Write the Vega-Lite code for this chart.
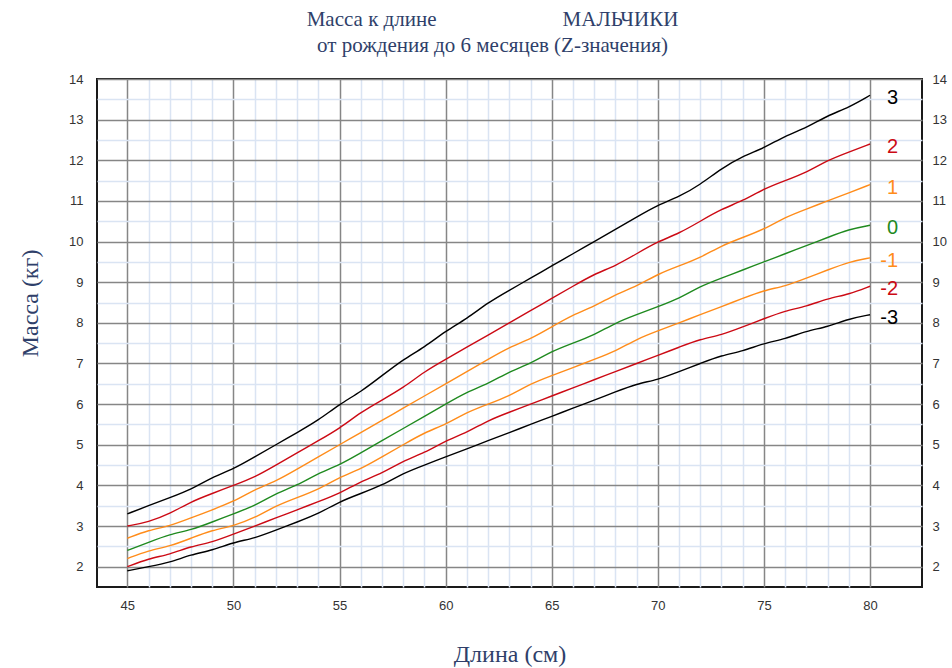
{
  "$schema": "https://vega.github.io/schema/vega-lite/v6.json",
  "width": 825,
  "height": 508,
  "autosize": {"type": "none"},
  "padding": {"left": 97, "top": 79, "right": 30, "bottom": 81},
  "background": "white",
  "title": {
    "text": ["Масса к длине\u00a0\u00a0\u00a0\u00a0\u00a0\u00a0\u00a0\u00a0\u00a0\u00a0\u00a0\u00a0\u00a0\u00a0\u00a0\u00a0\u00a0\u00a0\u00a0\u00a0\u00a0\u00a0\u00a0\u00a0МАЛЬЧИКИ", "от рождения до 6 месяцев (Z-значения)"],
    "font": "Liberation Serif",
    "fontSize": 21,
    "fontWeight": "normal",
    "color": "#2F3F6A",
    "lineHeight": 26,
    "anchor": "middle",
    "dx": -17,
    "offset": 17
  },
  "config": {
    "view": {"stroke": "#1a1a1a", "strokeWidth": 2},
    "axis": {
      "labelFont": "Liberation Sans",
      "labelFontSize": 13,
      "labelColor": "#333333",
      "ticks": false,
      "domain": false,
      "gridWidth": 1.5,
      "titleFont": "Liberation Serif",
      "titleFontSize": 24,
      "titleFontWeight": "normal",
      "titleColor": "#2F3F6A"
    }
  },
  "data": {
    "values": [
      {"L":45,"-3":1.9,"-2":2.0,"-1":2.2,"0":2.4,"1":2.7,"2":3.0,"3":3.3},
      {"L":46,"-3":2.0,"-2":2.2,"-1":2.4,"0":2.6,"1":2.9,"2":3.1,"3":3.5},
      {"L":47,"-3":2.1,"-2":2.3,"-1":2.5,"0":2.8,"1":3.0,"2":3.3,"3":3.7},
      {"L":48,"-3":2.3,"-2":2.5,"-1":2.7,"0":2.9,"1":3.2,"2":3.6,"3":3.9},
      {"L":49,"-3":2.4,"-2":2.6,"-1":2.9,"0":3.1,"1":3.4,"2":3.8,"3":4.2},
      {"L":50,"-3":2.6,"-2":2.8,"-1":3.0,"0":3.3,"1":3.6,"2":4.0,"3":4.4},
      {"L":51,"-3":2.7,"-2":3.0,"-1":3.2,"0":3.5,"1":3.9,"2":4.2,"3":4.7},
      {"L":52,"-3":2.9,"-2":3.2,"-1":3.5,"0":3.8,"1":4.1,"2":4.5,"3":5.0},
      {"L":53,"-3":3.1,"-2":3.4,"-1":3.7,"0":4.0,"1":4.4,"2":4.8,"3":5.3},
      {"L":54,"-3":3.3,"-2":3.6,"-1":3.9,"0":4.3,"1":4.7,"2":5.1,"3":5.6},
      {"L":55,"-3":3.6,"-2":3.8,"-1":4.2,"0":4.5,"1":5.0,"2":5.4,"3":6.0},
      {"L":56,"-3":3.8,"-2":4.1,"-1":4.4,"0":4.8,"1":5.3,"2":5.8,"3":6.3},
      {"L":57,"-3":4.0,"-2":4.3,"-1":4.7,"0":5.1,"1":5.6,"2":6.1,"3":6.7},
      {"L":58,"-3":4.3,"-2":4.6,"-1":5.0,"0":5.4,"1":5.9,"2":6.4,"3":7.1},
      {"L":59,"-3":4.5,"-2":4.8,"-1":5.3,"0":5.7,"1":6.2,"2":6.8,"3":7.4},
      {"L":60,"-3":4.7,"-2":5.1,"-1":5.5,"0":6.0,"1":6.5,"2":7.1,"3":7.8},
      {"L":61,"-3":4.9,"-2":5.3,"-1":5.8,"0":6.3,"1":6.8,"2":7.4,"3":8.1},
      {"L":62,"-3":5.1,"-2":5.6,"-1":6.0,"0":6.5,"1":7.1,"2":7.7,"3":8.5},
      {"L":63,"-3":5.3,"-2":5.8,"-1":6.2,"0":6.8,"1":7.4,"2":8.0,"3":8.8},
      {"L":64,"-3":5.5,"-2":6.0,"-1":6.5,"0":7.0,"1":7.6,"2":8.3,"3":9.1},
      {"L":65,"-3":5.7,"-2":6.2,"-1":6.7,"0":7.3,"1":7.9,"2":8.6,"3":9.4},
      {"L":66,"-3":5.9,"-2":6.4,"-1":6.9,"0":7.5,"1":8.2,"2":8.9,"3":9.7},
      {"L":67,"-3":6.1,"-2":6.6,"-1":7.1,"0":7.7,"1":8.4,"2":9.2,"3":10.0},
      {"L":68,"-3":6.3,"-2":6.8,"-1":7.3,"0":8.0,"1":8.7,"2":9.4,"3":10.3},
      {"L":69,"-3":6.5,"-2":7.0,"-1":7.6,"0":8.2,"1":8.9,"2":9.7,"3":10.6},
      {"L":70,"-3":6.6,"-2":7.2,"-1":7.8,"0":8.4,"1":9.2,"2":10.0,"3":10.9},
      {"L":71,"-3":6.8,"-2":7.4,"-1":8.0,"0":8.6,"1":9.4,"2":10.2,"3":11.1},
      {"L":72,"-3":7.0,"-2":7.6,"-1":8.2,"0":8.9,"1":9.6,"2":10.5,"3":11.4},
      {"L":73,"-3":7.2,"-2":7.7,"-1":8.4,"0":9.1,"1":9.9,"2":10.8,"3":11.8},
      {"L":74,"-3":7.3,"-2":7.9,"-1":8.6,"0":9.3,"1":10.1,"2":11.0,"3":12.1},
      {"L":75,"-3":7.5,"-2":8.1,"-1":8.8,"0":9.5,"1":10.3,"2":11.3,"3":12.3},
      {"L":76,"-3":7.6,"-2":8.3,"-1":8.9,"0":9.7,"1":10.6,"2":11.5,"3":12.6},
      {"L":77,"-3":7.8,"-2":8.4,"-1":9.1,"0":9.9,"1":10.8,"2":11.7,"3":12.8},
      {"L":78,"-3":7.9,"-2":8.6,"-1":9.3,"0":10.1,"1":11.0,"2":12.0,"3":13.1},
      {"L":79,"-3":8.1,"-2":8.7,"-1":9.5,"0":10.3,"1":11.2,"2":12.2,"3":13.3},
      {"L":80,"-3":8.2,"-2":8.9,"-1":9.6,"0":10.4,"1":11.4,"2":12.4,"3":13.6}
    ]
  },
  "transform": [
    {"fold": ["-3","-2","-1","0","1","2","3"], "as": ["z","w"]}
  ],
  "layer": [
    {
      "mark": {"type": "line", "strokeWidth": 1.4, "interpolate": "basis", "clip": true},
      "encoding": {
        "x": {
          "field": "L", "type": "quantitative",
          "scale": {"domain": [43.57, 82.45], "nice": false, "zero": false},
          "axis": {
            "values": [45,46,47,48,49,50,51,52,53,54,55,56,57,58,59,60,61,62,63,64,65,66,67,68,69,70,71,72,73,74,75,76,77,78,79,80],
            "labelExpr": "datum.value % 5 === 0 ? datum.label : ''",
            "gridColor": {"condition": {"test": "datum.value % 5 === 0", "value": "#868686"}, "value": "#dae4f3"},
            "labelPadding": 12,
            "title": "Длина (см)",
            "titlePadding": 30
          }
        },
        "y": {
          "field": "w", "type": "quantitative",
          "scale": {"domain": [1.5, 14], "nice": false, "zero": false},
          "axis": {
            "values": [2,2.5,3,3.5,4,4.5,5,5.5,6,6.5,7,7.5,8,8.5,9,9.5,10,10.5,11,11.5,12,12.5,13,13.5,14],
            "labelExpr": "datum.value % 1 === 0 ? format(datum.value, 'd') : ''",
            "gridColor": {"condition": {"test": "datum.value % 1 === 0", "value": "#868686"}, "value": "#dae4f3"},
            "labelPadding": 14,
            "title": "Масса (кг)",
            "titlePadding": 26,
            "titleY": 224
          }
        },
        "color": {
          "field": "z", "type": "nominal",
          "scale": {"domain": ["-3","-2","-1","0","1","2","3"], "range": ["#000000","#cc0a14","#ff8c1a","#1f8a1f","#ff8c1a","#cc0a14","#000000"]},
          "legend": null
        }
      }
    },
    {
      "transform": [{"filter": "datum.L === 80"}],
      "mark": {"type": "text", "align": "right", "baseline": "middle", "dx": 28, "dy": 3, "font": "Liberation Sans", "fontSize": 20},
      "encoding": {
        "x": {"field": "L", "type": "quantitative", "axis": null},
        "y": {
          "field": "w", "type": "quantitative",
          "axis": {
            "orient": "right",
            "grid": false,
            "values": [2,3,4,5,6,7,8,9,10,11,12,13,14],
            "labelPadding": 10,
            "title": null
          }
        },
        "text": {"field": "z"},
        "color": {"field": "z", "type": "nominal", "legend": null}
      }
    }
  ],
  "resolve": {"axis": {"x": "independent", "y": "independent"}}
}
